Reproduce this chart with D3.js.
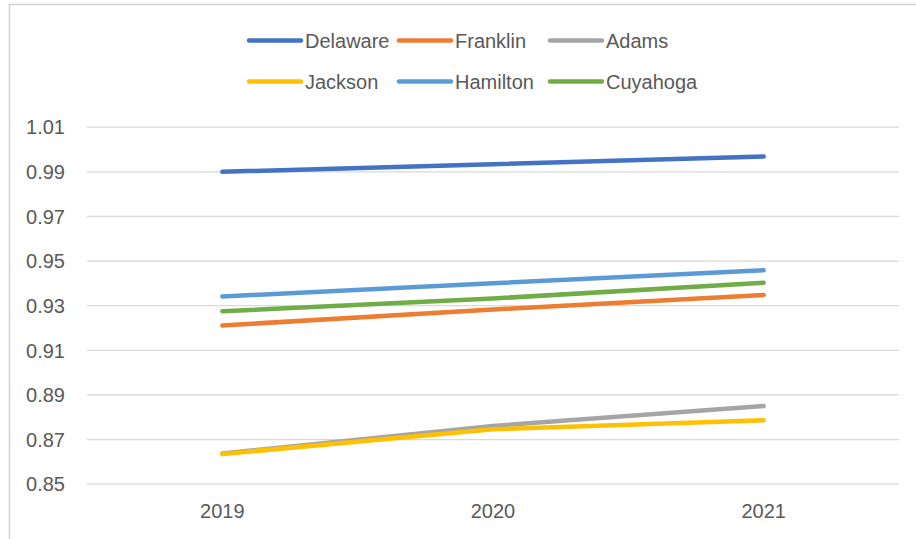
<!DOCTYPE html>
<html>
<head>
<meta charset="utf-8">
<script src="https://cdn.jsdelivr.net/npm/d3@7"></script>
<style>
    body { margin: 0; background: #fff; }
    svg { font-family: "Liberation Sans", Arial, sans-serif; }
</style>
</head>
<body>
<div id="chart"></div>
<script>
// data
var years = ["2019", "2020", "2021"];
var seriesNames = ["Delaware", "Franklin", "Adams", "Jackson", "Hamilton", "Cuyahoga"];
var seriesColors = ["#4472C4", "#ED7D31", "#A5A5A5", "#FFC000", "#5B9BD5", "#70AD47"];
var delaware = [0.9898, 0.9932, 0.9966];
var franklin = [0.9209, 0.9281, 0.9346];
var adams = [0.8635, 0.8759, 0.8848];
var jackson = [0.8633, 0.8744, 0.8784];
var hamilton = [0.9339, 0.9398, 0.9457];
var cuyahoga = [0.9273, 0.9330, 0.9401];
var yTicks = [0.85, 0.87, 0.89, 0.91, 0.93, 0.95, 0.97, 0.99, 1.01];

var seriesValues = [delaware, franklin, adams, jackson, hamilton, cuyahoga];

var width = 916, height = 539;
var plot = { left: 87, right: 899, top: 126.7, bottom: 483.7 };

var svg = d3.select("#chart").append("svg")
    .attr("width", width)
    .attr("height", height);

// chart frame
svg.append("path")
    .attr("d", "M9.5," + height + "V4.5H" + width)
    .attr("fill", "none")
    .attr("stroke", "#d0d0d0")
    .attr("stroke-width", 1.5);

var x = d3.scaleBand().domain(years).range([plot.left, plot.right]);
var y = d3.scaleLinear().domain([0.85, 1.01]).range([plot.bottom, plot.top]);

// gridlines + y labels
var yAxis = d3.axisLeft(y)
    .tickValues(yTicks)
    .tickFormat(d3.format(".2f"))
    .tickSize(-(plot.right - plot.left))
    .tickPadding(22);
var gy = svg.append("g")
    .attr("transform", "translate(" + plot.left + ",0)")
    .call(yAxis);
gy.select(".domain").remove();
gy.selectAll(".tick line").attr("stroke", "#d9d9d9").attr("stroke-width", 1.3);
gy.selectAll(".tick text")
    .attr("fill", "#595959")
    .style("font-size", "20px")
    .attr("dy", "0.36em");

// x labels
var xAxis = d3.axisBottom(x).tickSize(0).tickPadding(20);
var gx = svg.append("g")
    .attr("transform", "translate(0," + plot.bottom + ")")
    .call(xAxis);
gx.select(".domain").remove();
gx.selectAll(".tick text")
    .attr("fill", "#595959")
    .style("font-size", "20px");

// lines
var line = d3.line()
    .x((d, i) => x(years[i]) + x.bandwidth() / 2)
    .y(d => y(d));

svg.selectAll(".series")
    .data(seriesValues)
    .enter()
    .append("path")
    .attr("class", "series")
    .attr("d", line)
    .attr("fill", "none")
    .attr("stroke", (d, i) => seriesColors[i])
    .attr("stroke-width", 4.5)
    .attr("stroke-linecap", "round")
    .attr("stroke-linejoin", "round");

// legend: two rows of three
var legendX = [249, 399, 550];
var legendY = [40.5, 81.5];
var legend = svg.selectAll(".legend")
    .data(seriesNames)
    .enter()
    .append("g")
    .attr("class", "legend")
    .attr("transform", (d, i) => "translate(" + legendX[i % 3] + "," + legendY[Math.floor(i / 3)] + ")");
legend.append("line")
    .attr("x1", 0).attr("x2", 52)
    .attr("stroke", (d, i) => seriesColors[i])
    .attr("stroke-width", 4.5)
    .attr("stroke-linecap", "round");
legend.append("text")
    .attr("x", 56)
    .attr("dy", "0.36em")
    .attr("fill", "#595959")
    .style("font-size", "20px")
    .text(d => d);
</script>
</body>
</html>
